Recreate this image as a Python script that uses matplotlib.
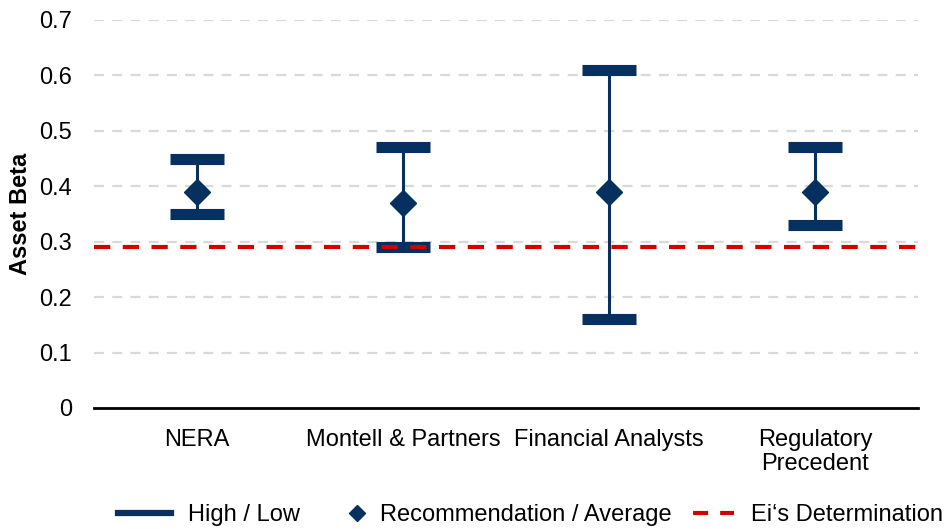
import matplotlib
matplotlib.use("Agg")
import matplotlib.pyplot as plt
from matplotlib.lines import Line2D
from matplotlib.legend_handler import HandlerLine2D
import numpy as np

categories = ["NERA", "Montell & Partners", "Financial Analysts", "Regulatory\nPrecedent"]
high = [0.45, 0.47, 0.61, 0.47]
low = [0.35, 0.29, 0.16, 0.33]
average = [0.39, 0.37, 0.39, 0.39]
determination = 0.29
yticks = [0, 0.1, 0.2, 0.3, 0.4, 0.5, 0.6, 0.7]
ytick_labels = ["0", "0.1", "0.2", "0.3", "0.4", "0.5", "0.6", "0.7"]

navy = "#06305f"
red = "#d40000"
plt.rcParams['font.family'] = ['Liberation Sans', 'DejaVu Sans']
FS = 17

fig = plt.figure(figsize=(9.48, 5.29), dpi=100)
ax = fig.add_axes([94/948, 1-408/529, 824/948, 388/529])

x = np.arange(len(categories))
# gridlines
for t in yticks[1:]:
    ax.axhline(t, color="#d9d9d9", lw=1.6, ls=(0, (4.5, 3.7)), zorder=0)

# whiskers
ax.vlines(x, low, high, color=navy, lw=2.2, zorder=2)
# high / low bars
ax.plot(x, high, ls="none", marker="_", ms=39, mew=8, color=navy, zorder=3)
ax.plot(x, low, ls="none", marker="_", ms=39, mew=8, color=navy, zorder=3)
# determination line
ax.axhline(determination, color=red, lw=3, ls=(0, (3.9, 3.0)), zorder=4)
# averages
ax.plot(x, average, ls="none", marker="D", ms=13.5, color=navy, zorder=5)

ax.set_xlim(-0.5, len(categories) - 0.5)
ax.set_ylim(0, 0.7)
ax.set_yticks(yticks)
ax.set_yticklabels(ytick_labels)
ax.set_xticks(x)
ax.set_xticklabels(categories, linespacing=1.15)
ax.tick_params(axis="both", length=0, labelsize=FS, colors="black")
ax.tick_params(axis="x", pad=15)
ax.tick_params(axis="y", pad=16)
for s in ["top", "right", "left"]:
    ax.spines[s].set_visible(False)
ax.spines["bottom"].set_linewidth(2)
ax.spines["bottom"].set_color("black")
ax.set_ylabel("Asset Beta", fontsize=FS, fontweight="bold", labelpad=5)


class RightMarkerHandler(HandlerLine2D):
    def get_xdata(self, legend, xdescent, ydescent, width, height, fontsize):
        target = -xdescent + width * 0.89
        xd = np.array([target - 1.0, target + 1.0])
        return xd, np.array([target])


handles = [
    Line2D([], [], color=navy, lw=4.5),
    Line2D([], [], color=navy, ls="none", marker="D", ms=7.8),
    Line2D([], [], color=red, lw=3, ls=(3.6, (3.6, 2.9))),
]
labels = ["High / Low", "Recommendation / Average", "Ei\u2018s Determination"]
fig.legend(handles, labels, loc="center left", bbox_to_anchor=(118/948, 1-515/529), ncol=3,
           frameon=False, fontsize=FS, handlelength=2.25, columnspacing=0.4,
           handletextpad=0.72, borderpad=0, borderaxespad=0, numpoints=1,
           handler_map={handles[1]: RightMarkerHandler(numpoints=1)})

fig.savefig("out.png", dpi=100)
